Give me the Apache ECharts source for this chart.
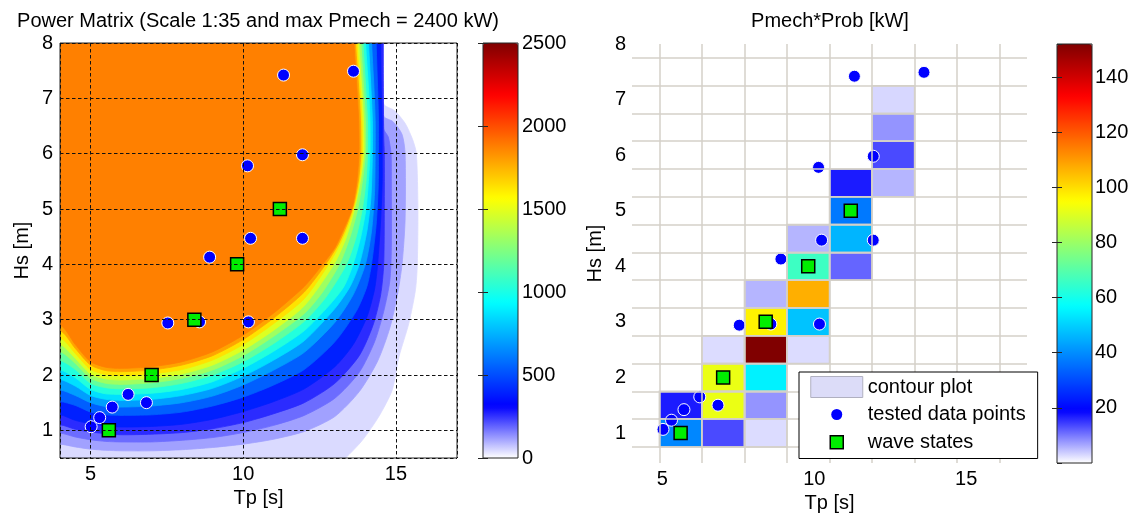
<!DOCTYPE html>
<html><head><meta charset="utf-8">
<script src="https://cdn.jsdelivr.net/npm/echarts@6/dist/echarts.min.js"></script>
<style>html,body{margin:0;padding:0;background:#fff}#c{width:1133px;height:514px}</style>
</head><body><div id="c"></div>
<script>
// ---------- data ----------
// tested data points (Tp [s], Hs [m])
const testTp = [5.02, 5.30, 5.71, 6.23, 6.83, 7.53, 8.57, 10.17, 8.90, 10.24, 11.94, 10.14, 11.94, 11.32, 13.61];
const testHs = [1.065, 1.23, 1.42, 1.65, 1.50, 2.94, 2.96, 2.96, 4.13, 4.47, 4.47, 5.78, 5.98, 7.42, 7.49];
// wave states
const waveTp = [5.6, 7.0, 8.4, 9.8, 11.2];
const waveHs = [1, 2, 3, 4, 5];
// Pmech*Prob matrix cells (centre Tp, centre Hs, value kW)
const cellTp  = [12.6, 12.6, 12.6, 11.2, 12.6, 11.2, 11.2, 9.8, 9.8, 11.2, 8.4, 9.8, 8.4, 9.8, 7.0, 8.4, 9.8, 7.0, 8.4, 5.6, 7.0, 8.4, 5.6, 7.0, 8.4];
const cellHs  = [7.0, 6.5, 6.0, 5.5, 5.5, 5.0, 4.5, 4.5, 4.0, 4.0, 3.5, 3.5, 3.0, 3.0, 2.5, 2.5, 2.5, 2.0, 2.0, 1.5, 1.5, 1.5, 1.0, 1.0, 1.0];
const cellVal = [3, 8, 13.5, 17, 5.5, 37, 46, 5.5, 66, 11.5, 5.5, 107, 97, 48, 2.6, 152, 2.6, 92, 55, 17, 92, 8, 39, 13.5, 2.6];
// bin edges of the probability matrix
const tpEdges = [4.9, 6.3, 7.7, 9.1, 10.5, 11.9, 13.3, 14.7, 16.1];
const hsEdges = [0.75, 1.25, 1.75, 2.25, 2.75, 3.25, 3.75, 4.25, 4.75, 5.25, 5.75, 6.25, 6.75, 7.25, 7.75];
// power matrix contour levels (kW) and value used for the colour of each band
const contourLevels = [30, 90, 150, 220, 312, 470, 625, 780, 940, 1100, 1250, 1400, 1560, 1710, 1875];
const bandValues    = [45, 115, 180, 260, 390, 545, 700, 860, 1020, 1175, 1325, 1480, 1635, 1790, 1875];
// contour lines [Tp, Hs] (region above/left of each line is >= level)
const lvl30 = [[4,0.3],[12.9,0.3],[13.35,0.5],[13.9,0.82],[14.44,1.25],[14.88,1.73],[15.1,2.33],[15.42,2.93],[15.64,3.54],[15.7,4.0],[15.72,5.0],[15.67,6.0],[15.55,6.25],[15.3,6.55],[14.95,6.78],[14.6,6.9],[14.58,8.1]];
const lvl90 = [[4,0.75],[4.5,0.7],[5,0.66],[5.5,0.64],[6,0.63],[7,0.63],[8,0.65],[9,0.69],[10,0.75],[11,0.84],[12,0.98],[13,1.25],[13.8,1.7],[14.4,2.25],[14.8,2.85],[15.05,3.45],[15.2,4.0],[15.3,4.8],[15.3,6.0],[15.2,6.35],[14.9,6.58],[14.6,6.68],[14.58,8.1]];
const lvl150 = [[4,0.95],[4.5,0.88],[5,0.83],[5.5,0.8],[6,0.79],[7,0.79],[8,0.82],[9,0.87],[10,0.96],[11,1.09],[12,1.27],[13,1.58],[13.8,2.05],[14.3,2.6],[14.6,3.15],[14.8,3.7],[14.85,4.3],[14.85,5.5],[14.84,6.0],[14.75,6.3],[14.6,6.45],[14.58,8.1]];
const lvl220 = [[4,1.1],[4.5,1.02],[5,0.97],[5.5,0.94],[6,0.92],[7,0.93],[8,0.96],[9,1.03],[10,1.14],[11,1.3],[12,1.5],[13,1.85],[13.8,2.35],[14.25,2.9],[14.5,3.45],[14.6,4.0],[14.62,5.0],[14.62,6.0],[14.6,6.3],[14.58,8.1]];
const lvl312 = [[4,1.28],[4.5,1.18],[5,1.12],[5.5,1.08],[6,1.06],[7,1.07],[8,1.11],[9,1.2],[10,1.34],[11,1.52],[12,1.75],[13,2.15],[13.6,2.55],[14.05,3.05],[14.3,3.55],[14.4,4.0],[14.5,4.8],[14.55,5.5],[14.55,6.0],[14.55,6.6],[14.52,7.2],[14.5,8.1]];
const lvl470 = [[4,1.52],[4.5,1.45],[5,1.33],[5.5,1.28],[6,1.27],[7,1.28],[8,1.33],[9,1.44],[10,1.6],[11,1.82],[12,2.1],[13,2.6],[13.7,3.15],[14.05,3.6],[14.2,4.0],[14.35,4.7],[14.42,5.4],[14.43,6.0],[14.43,6.6],[14.4,7.2],[14.35,8.1]];
const lvl625 = [[4,1.73],[4.5,1.63],[5,1.5],[5.5,1.43],[6,1.42],[7,1.44],[8,1.5],[9,1.62],[10,1.82],[11,2.09],[12,2.41],[13,2.95],[13.6,3.45],[14.0,4.0],[14.2,4.6],[14.3,5.3],[14.32,6.0],[14.32,6.6],[14.28,7.2],[14.2,8.1]];
const lvl780 = [[4,1.92],[4.5,1.8],[5,1.63],[5.5,1.56],[6,1.54],[7,1.56],[8,1.63],[9,1.76],[10,1.98],[11,2.27],[12,2.62],[13,3.2],[13.5,3.6],[13.8,4.0],[14.05,4.6],[14.18,5.2],[14.23,6.0],[14.23,6.6],[14.18,7.2],[14.1,8.1]];
const lvl940 = [[4,2.09],[4.5,1.95],[5,1.74],[5.5,1.66],[6,1.65],[7,1.67],[8,1.74],[9,1.88],[10,2.12],[11,2.43],[12,2.8],[12.8,3.25],[13.3,3.6],[13.6,4.0],[13.85,4.5],[14.02,5.0],[14.1,5.5],[14.15,6.0],[14.15,6.6],[14.1,7.2],[14.0,8.1]];
const lvl1100 = [[4,2.26],[4.5,2.1],[5,1.85],[5.5,1.77],[6,1.75],[7,1.77],[8,1.85],[9,2.0],[10,2.24],[11,2.57],[12,2.97],[12.7,3.4],[13.38,4.0],[13.7,4.5],[13.9,5.0],[14.02,5.5],[14.07,6.0],[14.07,6.6],[14.01,7.2],[13.92,8.1]];
const lvl1250 = [[4,2.42],[4.5,2.21],[5,1.94],[5.5,1.85],[6,1.83],[7,1.86],[8,1.94],[9,2.09],[10,2.35],[11,2.7],[12,3.11],[12.6,3.5],[13.15,4.0],[13.5,4.5],[13.75,5.0],[13.9,5.5],[14.0,6.0],[14.0,6.6],[13.94,7.2],[13.85,8.1]];
const lvl1400 = [[4,2.55],[4.5,2.3],[5,2.02],[5.5,1.93],[6,1.91],[7,1.94],[8,2.02],[9,2.18],[10,2.45],[11,2.81],[12,3.25],[12.97,4.0],[13.35,4.45],[13.6,4.9],[13.8,5.4],[13.95,6.0],[13.94,6.6],[13.88,7.2],[13.78,8.1]];
const lvl1560 = [[4,2.67],[4.5,2.39],[5,2.1],[5.5,2.01],[6,1.99],[7,2.02],[8,2.1],[9,2.27],[10,2.55],[11,2.93],[12,3.38],[12.8,4.0],[13.2,4.4],[13.5,4.8],[13.7,5.2],[13.83,5.6],[13.9,6.0],[13.89,6.6],[13.83,7.2],[13.72,8.1]];
const lvl1710 = [[4,2.8],[4.5,2.48],[5,2.18],[5.5,2.08],[6,2.06],[7,2.09],[8,2.18],[9,2.35],[10,2.64],[11,3.03],[12,3.5],[12.7,4.0],[13.1,4.35],[13.4,4.72],[13.63,5.1],[13.78,5.55],[13.85,6.0],[13.84,6.6],[13.78,7.2],[13.67,8.1]];
const lvl1875 = [[4,2.9],[4.5,2.55],[5,2.24],[5.5,2.14],[6,2.12],[7,2.15],[8,2.24],[9,2.42],[10,2.72],[11,3.12],[12,3.6],[12.6,4.0],[13,4.3],[13.3,4.65],[13.56,5.0],[13.72,5.5],[13.79,6.0],[13.78,6.6],[13.72,7.2],[13.62,8.1]];
const contourCurves = [lvl30, lvl90, lvl150, lvl220, lvl312, lvl470, lvl625, lvl780, lvl940, lvl1100, lvl1250, lvl1400, lvl1560, lvl1710, lvl1875];

// ---------- styling ----------
const FONT = 'Liberation Sans, Arial, Helvetica, sans-serif';
const TXT = '#000000';
const jetWhite = ['#ffffff', '#0000ff', '#0080ff', '#00ffff', '#80ff80', '#ffff00', '#ff8000', '#ff0000', '#800000'];
const CELL_W = 1.4, CELL_H = 0.5;

const chart = echarts.init(document.getElementById('c'), null, {renderer: 'canvas'});

const xFmt = v => (Math.abs(v % 5) < 1e-9 ? String(v) : '');
const yFmt = v => (Math.abs(v - Math.round(v)) < 1e-9 ? String(Math.round(v)) : '');
const plainFmt = v => String(v);
const lbl = (margin, fmt) => ({fontSize: 20, color: TXT, fontFamily: FONT, margin: margin, formatter: fmt});
const nameStyle = {fontSize: 20, color: TXT, fontFamily: FONT};

const contourData = contourLevels.map((l, i) => [bandValues[i], i, l]);
const testPts = testTp.map((t, i) => [t, testHs[i]]);
const wavePts = waveTp.map((t, i) => [t, waveHs[i]]);
const cells = cellTp.map((t, i) => [t, cellHs[i], cellVal[i]]);

const dotStyle = {color: '#0000ff', borderColor: '#ffffff', borderWidth: 1, opacity: 1};
const sqStyle = {color: '#00ee00', borderColor: '#000000', borderWidth: 1.5, opacity: 1};

const option = {
  animation: false,
  backgroundColor: '#ffffff',
  textStyle: {fontFamily: FONT},
  title: [
    {text: 'Power Matrix (Scale 1:35 and max Pmech = 2400 kW)', left: 258, top: 11, textAlign: 'center', padding: 0,
     textStyle: {fontSize: 20, fontWeight: 'normal', color: TXT, fontFamily: FONT}},
    {text: 'Pmech*Prob [kW]', left: 830, top: 11, textAlign: 'center', padding: 0,
     textStyle: {fontSize: 20, fontWeight: 'normal', color: TXT, fontFamily: FONT}}
  ],
  grid: [
    {left: 60, top: 43, width: 397, height: 415, show: true, borderColor: '#262626', borderWidth: 1, backgroundColor: 'transparent', z: 10, outerBoundsMode: 'none'},
    {left: 483, top: 43, width: 35, height: 415, show: true, borderColor: '#262626', borderWidth: 1, backgroundColor: 'transparent', z: 10, outerBoundsMode: 'none'},
    {left: 632, top: 44, width: 395, height: 419, outerBoundsMode: 'none'},
    {left: 1057, top: 44, width: 35, height: 419, show: true, borderColor: '#262626', borderWidth: 1, backgroundColor: 'transparent', z: 10, outerBoundsMode: 'none'}
  ],
  xAxis: [
    {gridIndex: 0, type: 'value', min: 4, max: 17, splitNumber: 2, minInterval: 5, maxInterval: 5, z: 10,
     axisLine: {show: false}, axisTick: {show: false}, axisLabel: lbl(6, xFmt),
     splitLine: {show: true, lineStyle: {color: '#111111', width: 1, type: [3.5, 2.5]}},
     name: 'Tp [s]', nameLocation: 'middle', nameGap: 29, nameTextStyle: nameStyle},
    {gridIndex: 1, type: 'value', min: 0, max: 1, show: false},
    {gridIndex: 2, type: 'value', min: 4, max: 17, splitNumber: 2, minInterval: 5, maxInterval: 5,
     axisLine: {show: false}, axisTick: {show: false}, axisLabel: lbl(6, xFmt), splitLine: {show: false},
     name: 'Tp [s]', nameLocation: 'middle', nameGap: 29, nameTextStyle: nameStyle},
    {gridIndex: 3, type: 'value', min: 0, max: 1, show: false}
  ],
  yAxis: [
    {gridIndex: 0, type: 'value', min: 0.5, max: 8, splitNumber: 7, minInterval: 1, maxInterval: 1, z: 10,
     axisLine: {show: false}, axisTick: {show: false}, axisLabel: lbl(7, yFmt),
     splitLine: {show: true, lineStyle: {color: '#111111', width: 1, type: [3.5, 2.5]}},
     name: 'Hs [m]', nameLocation: 'middle', nameGap: 28, nameTextStyle: nameStyle},
    {gridIndex: 1, type: 'value', min: 0, max: 2500, interval: 500, position: 'right', z: 11,
     axisLine: {show: false}, axisTick: {show: true, inside: true, length: 5, lineStyle: {color: '#262626'}},
     axisLabel: lbl(4, plainFmt), splitLine: {show: false}},
    {gridIndex: 1, type: 'value', min: 0, max: 2500, interval: 500, position: 'left', z: 11,
     axisLine: {show: false}, axisTick: {show: true, inside: true, length: 5, lineStyle: {color: '#262626'}},
     axisLabel: {show: false}, splitLine: {show: false}},
    {gridIndex: 2, type: 'value', min: 0.46, max: 8, splitNumber: 7, minInterval: 1, maxInterval: 1,
     axisLine: {show: false}, axisTick: {show: false}, axisLabel: lbl(6, yFmt), splitLine: {show: false},
     name: 'Hs [m]', nameLocation: 'middle', nameGap: 27, nameTextStyle: nameStyle},
    {gridIndex: 3, type: 'value', min: 0, max: 152, interval: 20, position: 'right', z: 11,
     axisLine: {show: false}, axisTick: {show: true, inside: true, length: 5, lineStyle: {color: '#262626'}},
     axisLabel: Object.assign(lbl(3, plainFmt), {showMinLabel: false, showMaxLabel: false}), splitLine: {show: false}},
    {gridIndex: 3, type: 'value', min: 0, max: 152, interval: 20, position: 'left', z: 11,
     axisLine: {show: false}, axisTick: {show: true, inside: true, length: 5, lineStyle: {color: '#262626'}},
     axisLabel: {show: false}, splitLine: {show: false}}
  ],
  visualMap: [
    {type: 'continuous', min: 0, max: 2500, seriesIndex: 0, dimension: 0, inRange: {color: jetWhite},
     left: 483, top: 43, itemWidth: 35, itemHeight: 415, padding: 0, calculable: false, hoverLink: false, z: 2},
    {type: 'continuous', min: 0, max: 152, seriesIndex: 3, dimension: 2, inRange: {color: jetWhite},
     left: 1057, top: 44, itemWidth: 35, itemHeight: 419, padding: 0, calculable: false, hoverLink: false, z: 2}
  ],
  legend: {
    orient: 'vertical', left: 799, top: 372, padding: [4, 12, 5, 11],
    itemWidth: 52, itemHeight: 21, itemGap: 6, selectedMode: false,
    borderColor: '#000000', borderWidth: 1, backgroundColor: '#ffffff', z: 20,
    textStyle: {fontSize: 20, color: TXT, fontFamily: FONT},
    data: [
      {name: 'contour plot', icon: 'rect', itemStyle: {color: '#dcdcf8', borderColor: '#b0b0c0', borderWidth: 1}},
      {name: 'tested data points', icon: 'path://M0,0M52,21M20.5,10.5A5.5,5.5,0,1,0,31.5,10.5A5.5,5.5,0,1,0,20.5,10.5Z',
       itemStyle: {color: '#0000ff', borderWidth: 0, opacity: 1}},
      {name: 'wave states', icon: 'path://M0,0M52,21M19.5,4L32.5,4L32.5,17L19.5,17Z',
       itemStyle: {color: '#00ee00', borderColor: '#000000', borderWidth: 1.5, opacity: 1}}
    ]
  },
  series: [
    {
      name: 'Power matrix', type: 'custom', xAxisIndex: 0, yAxisIndex: 0, clip: true, silent: true, z: 1,
      data: contourData,
      renderItem: function (params, api) {
        const pts = contourCurves[api.value(1)];
        const first = pts[0], last = pts[pts.length - 1];
        const poly = pts.concat([[last[0], 9.5], [2.5, 9.5], [2.5, first[1]]]).map(p => api.coord(p));
        const c = api.visual('color');
        return {type: 'polygon', shape: {points: poly, smooth: 0.25}, style: {fill: c, stroke: c, lineWidth: 0.8}};
      }
    },
    {name: 'tested data points', type: 'scatter', xAxisIndex: 0, yAxisIndex: 0, symbol: 'circle', symbolSize: 12,
     itemStyle: dotStyle, data: testPts, z: 3, silent: true},
    {name: 'wave states', type: 'scatter', xAxisIndex: 0, yAxisIndex: 0, symbol: 'rect', symbolSize: 13,
     itemStyle: sqStyle, data: wavePts, z: 4, silent: true},
    {
      name: 'contour plot', type: 'custom', xAxisIndex: 2, yAxisIndex: 3, z: 1, silent: true,
      data: cells,
      renderItem: function (params, api) {
        const t = api.value(0), h = api.value(1);
        const a = api.coord([t - CELL_W / 2, h + CELL_H / 2]);
        const b = api.coord([t + CELL_W / 2, h - CELL_H / 2]);
        return {type: 'rect', shape: {x: a[0], y: a[1], width: b[0] - a[0], height: b[1] - a[1]},
                style: {fill: api.visual('color'), stroke: '#d4d0c8', lineWidth: 1.5}};
      },
      markLine: {
        silent: true, symbol: ['none', 'none'], label: {show: false}, animation: false,
        lineStyle: {color: '#d4d0c8', width: 1.5, type: 'solid'},
        emphasis: {disabled: true},
        data: tpEdges.map(v => ({xAxis: v})).concat(hsEdges.map(v => ({yAxis: v})))
      }
    },
    {name: 'tested data points', type: 'scatter', xAxisIndex: 2, yAxisIndex: 3, symbol: 'circle', symbolSize: 12,
     itemStyle: dotStyle, data: testPts, z: 3, silent: true},
    {name: 'wave states', type: 'scatter', xAxisIndex: 2, yAxisIndex: 3, symbol: 'rect', symbolSize: 13,
     itemStyle: sqStyle, data: wavePts, z: 4, silent: true}
  ]
};
chart.setOption(option);
</script></body></html>
